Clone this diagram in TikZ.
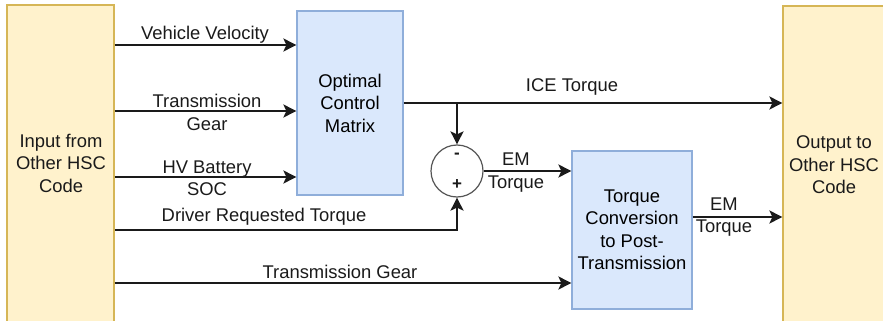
\documentclass[tikz,border=0pt]{standalone}
\usepackage{fontspec}
\setmainfont{Liberation Sans}
\usetikzlibrary{arrows.meta}
\definecolor{yfill}{HTML}{FFF2CC}
\definecolor{ybord}{HTML}{D6B656}
\definecolor{bfill}{HTML}{DAE8FC}
\definecolor{bbord}{HTML}{8FAEDA}
\definecolor{linecol}{HTML}{1A1A1A}
\definecolor{sumcol}{HTML}{555555}
\begin{document}
\begin{tikzpicture}[x=1pt,y=-1pt,
  font=\fontsize{18.4}{22.5}\selectfont,
  yellowbox/.style={draw=ybord, fill=yfill, line width=1.2pt, inner sep=0pt},
  bluebox/.style={draw=bbord, fill=bfill, line width=1.2pt, align=center, inner sep=0pt},
  sumnode/.style={circle, draw=sumcol, fill=white, line width=1.2pt, minimum size=52pt, inner sep=0pt},
  signnode/.style={inner sep=0pt, text=linecol, font=\fontsize{17}{17}\selectfont\bfseries},
  arr/.style={line width=2pt, draw=linecol, -{Stealth[length=13pt,width=13pt,inset=3pt]}},
  lbl/.style={align=center, inner sep=1pt, text=linecol}
]
\useasboundingbox (0,0) rectangle (883,321);
\clip (0,0) rectangle (883,321);

% side blocks
\node[yellowbox, minimum width=107pt, minimum height=320pt] (inp) at (60.5,165) {};
\node[lbl] (inptxt) at (61,163) {Input from\\Other HSC\\Code};
\node[yellowbox, minimum width=107pt, minimum height=324pt] (out) at (836.5,168) {};
\node[lbl] (outtxt) at (834,165) {Output to\\Other HSC\\Code};

% processing blocks
\node[bluebox, minimum width=106pt, minimum height=184pt] (ocm) at (350,103) {Optimal\\Control\\Matrix};
\node[bluebox, minimum width=120pt, minimum height=158pt] (tcp) at (632,230) {Torque\\Conversion\\to Post-\\Transmission};

% summing junction
\node[sumnode] (sum) at (457,171) {};
\node[signnode] (minus) at (457,156) {-};
\node[signnode] (plus) at (457,185) {+};

% inputs to the optimal control matrix
\draw[arr] (inp.east |- 0,45) -- (ocm.west |- 0,45);
\draw[arr] (inp.east |- 0,111) -- (ocm.west |- 0,111);
\draw[arr] (inp.east |- 0,177) -- (ocm.west |- 0,177);
\node[lbl] (lvv) at (205,35) {Vehicle Velocity};
\node[lbl] (ltg) at (207,112.5) {Transmission\\Gear};
\node[lbl] (lhv) at (207,178.5) {HV Battery\\SOC};

% ICE torque and its branch into the junction
\draw[arr] (ocm.east |- 0,103) -- (out.west |- 0,103);
\draw[arr] (sum.north |- 0,103) -- (sum.north);
\node[lbl, fill=white] (lice) at (572,87) {ICE Torque};

% driver request into the junction
\draw[arr] (inp.east |- 0,230) -| (sum.south);
\node[lbl] (ldrt) at (264,217) {Driver Requested Torque};

% EM torque paths
\draw[arr] (sum.east) -- (tcp.west |- sum.east);
\node[lbl] (lem1) at (516,172.5) {EM\\Torque};
\draw[arr] (tcp.east |- 0,217) -- (out.west |- 0,217);
\node[lbl] (lem2) at (724,217) {EM\\Torque};

% gear signal to torque conversion
\draw[arr] (inp.east |- 0,283) -- (tcp.west |- 0,283);
\node[lbl] (ltg2) at (340,272) {Transmission Gear};
\end{tikzpicture}
\end{document}
